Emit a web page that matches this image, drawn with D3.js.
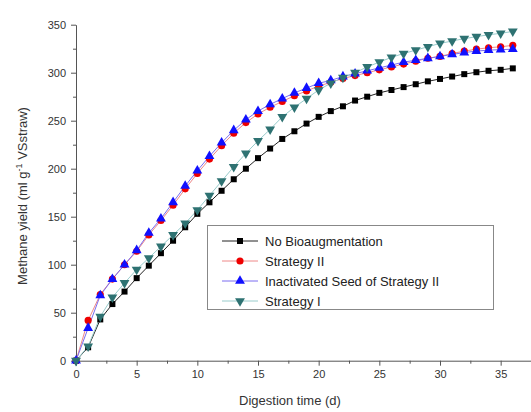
<!DOCTYPE html>
<html lang="en">
<head>
<meta charset="UTF-8">
<title>Methane yield</title>
<style>
    body { margin: 0; background: #fff; }
    svg text { font-family: "Liberation Sans", Arial, sans-serif; fill: #333; }
    .axis path, .axis line { stroke: #555; }
</style>
</head>
<body>
<svg id="chart" width="531" height="412"></svg>
<script src="https://d3js.org/d3.v7.min.js"></script>
<script>
// digestion days 0..36
const days = d3.range(0, 37);

const noBio = [0, 14, 43, 59, 72, 86, 99, 112, 125, 139, 153, 165, 177, 189, 200, 211, 221, 231, 239, 247, 254, 260, 265, 271, 275, 279, 282, 285, 288, 291, 293.5, 296, 298.5, 300.5, 302, 303, 304.5];
const strat2 = [0, 42, 69, 85, 100, 114, 131, 146, 162, 179, 195, 210, 224, 237, 248, 257, 264, 270, 276, 281, 286, 290, 294, 297, 300, 303, 306, 309, 312, 315, 317, 320, 322.5, 324.5, 326, 327, 328.5];
const inact = [0, 34, 68, 85, 100, 115, 133, 148, 165, 182, 198, 213, 227, 240, 251, 260, 267, 273, 279, 284, 289, 292, 296, 299, 302, 305, 308, 311, 313, 315, 317, 319, 321, 322.5, 323.5, 324, 324.5];
const strat1 = [0, 15, 46, 66, 81, 95, 107, 119, 131, 143, 157, 172, 187, 202, 216, 229, 241, 254, 264, 273, 282, 289, 295, 300, 306, 311, 316, 320, 323.5, 327, 330.5, 333, 335.5, 337.5, 339.5, 341, 343];

const xTicks = [0, 5, 10, 15, 20, 25, 30, 35];
const yTicks = [0, 50, 100, 150, 200, 250, 300, 350];

const series = [
    {name: "No Bioaugmentation", values: noBio, line: "#222", fill: "#000", symbol: d3.symbolSquare, size: 36},
    {name: "Strategy II", values: strat2, line: "#e88", fill: "#e00", symbol: d3.symbolCircle, size: 40},
    {name: "Inactivated Seed of Strategy II", values: inact, line: "#7a6cf0", fill: "#1010ff", symbol: d3.symbolTriangle, size: 42, rot: 0},
    {name: "Strategy I", values: strat1, line: "#9cc", fill: "#2e7272", symbol: d3.symbolTriangle, size: 42, rot: 180}
];

const svg = d3.select("#chart");
const x = d3.scaleLinear().domain([0, 37.5]).range([76, 531]);
const y = d3.scaleLinear().domain([0, 350]).range([360.7, 24.7]);

// minor ticks
svg.append("g").attr("class", "axis")
    .attr("transform", "translate(0,360.7)")
    .call(d3.axisBottom(x).tickValues(d3.range(2.5, 37.5, 5)).tickSize(3).tickFormat(""))
    .call(g => g.select(".domain").remove());
svg.append("g").attr("class", "axis")
    .attr("transform", "translate(76,0)")
    .call(d3.axisLeft(y).tickValues(d3.range(25, 350, 50)).tickSize(3).tickFormat(""))
    .call(g => g.select(".domain").remove());

const xAxis = svg.append("g").attr("class", "axis")
    .attr("transform", "translate(0,360.7)")
    .call(d3.axisBottom(x).tickValues(xTicks).tickSize(5).tickSizeOuter(0).tickPadding(5));
xAxis.selectAll("text").attr("font-size", 11);

const yAxis = svg.append("g").attr("class", "axis")
    .attr("transform", "translate(76,0)")
    .call(d3.axisLeft(y).tickValues(yTicks).tickSize(5).tickSizeOuter(0).tickPadding(5));
yAxis.selectAll("text").attr("font-size", 11);

svg.append("text")
    .attr("x", 290).attr("y", 405)
    .attr("text-anchor", "middle")
    .attr("font-size", 13)
    .text("Digestion time (d)");

const yt = svg.append("text")
    .attr("transform", "translate(27,196) rotate(-90)")
    .attr("text-anchor", "middle")
    .attr("font-size", 13);
yt.append("tspan").text("Methane yield (ml g");
yt.append("tspan").attr("dy", -5).attr("font-size", 9).text("-1");
yt.append("tspan").attr("dy", 5).text(" VSstraw)");

const line = d3.line().x((d, i) => x(days[i])).y(d => y(d));

series.forEach(s => {
    svg.append("path")
        .datum(s.values)
        .attr("fill", "none")
        .attr("stroke", s.line)
        .attr("stroke-width", 1)
        .attr("d", line);
});

series.forEach(s => {
    svg.append("g").selectAll("path")
        .data(s.values)
        .join("path")
        .attr("transform", (d, i) => `translate(${x(days[i])},${y(d)}) rotate(${s.rot || 0})`)
        .attr("d", d3.symbol().type(s.symbol).size(s.size))
        .attr("fill", s.fill);
});

// legend
const lg = svg.append("g");
lg.append("rect")
    .attr("x", 207.5).attr("y", 225.5)
    .attr("width", 286).attr("height", 84)
    .attr("fill", "#fff").attr("stroke", "#888");
series.forEach((s, i) => {
    const yy = 241 + i * 20;
    lg.append("line").attr("x1", 222).attr("x2", 258).attr("y1", yy).attr("y2", yy)
        .attr("stroke", s.line);
    lg.append("path")
        .attr("transform", `translate(240,${yy}) rotate(${s.rot || 0})`)
        .attr("d", d3.symbol().type(s.symbol).size(s.size))
        .attr("fill", s.fill);
    lg.append("text").attr("x", 265).attr("y", yy + 5)
        .attr("font-size", 13).style("fill", "#222")
        .text(s.name);
});
</script>
</body>
</html>
